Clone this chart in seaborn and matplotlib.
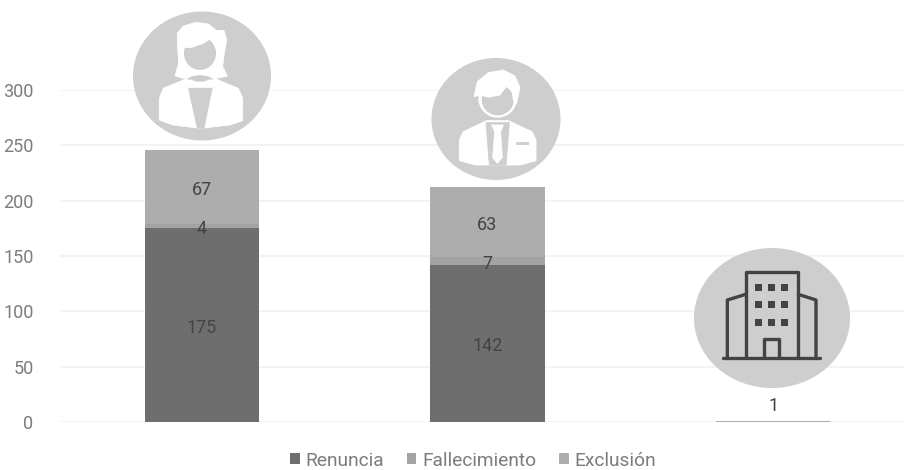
import matplotlib
matplotlib.use("Agg")
import matplotlib.pyplot as plt
from matplotlib.patches import Ellipse, Polygon, Rectangle
from matplotlib.lines import Line2D
import numpy as np
import seaborn as sns

categories = ["Mujeres", "Hombres", "Empresas"]
renuncia = [175, 142, 0]
fallecimiento = [4, 7, 0]
exclusion = [67, 63, 1]
series_names = ["Renuncia", "Fallecimiento", "Exclusión"]
y_ticks = [0, 50, 100, 150, 200, 250, 300]

COLORS = ["#6e6e6e", "#a3a3a3", "#adadad"]
CIRCLE = "#cecece"
DARK = "#434343"
W, H = 909, 470

sns.set_theme(style="white")
plt.rcParams["font.family"] = ["Roboto", "DejaVu Sans"]

fig = plt.figure(figsize=(W / 100, H / 100), dpi=100)
ax = fig.add_axes([60 / W, (H - 422) / H, 845 / W, 332 / H])

# stacked bars, bottom to top
bottom = np.zeros(3)
for name, vals, col in zip(series_names, [renuncia, fallecimiento, exclusion], COLORS):
    sns.barplot(x=categories, y=vals, bottom=bottom, color=col, width=0.4,
                saturation=1, ax=ax, label=name, legend=False, zorder=3, linewidth=0)
    for i, v in enumerate(vals):
        if v == 0:
            continue
        if v == 1:
            ax.annotate(str(v), (i, bottom[i] + v), xytext=(0, 4), textcoords="offset points",
                        ha="center", va="bottom", fontsize=13, color=DARK, zorder=5)
        else:
            ax.annotate(str(v), (i, bottom[i] + v / 2), xytext=(0, -2), textcoords="offset points",
                        ha="center", va="center", fontsize=13, color=DARK, zorder=5)
    bottom = bottom + np.array(vals)

ax.set_xlim(-0.497, 2.462)
ax.set_ylim(0, 300)
ax.set_yticks(y_ticks)
ax.set_ylabel("")
ax.tick_params(axis="x", bottom=False, labelbottom=False)
ax.tick_params(axis="y", left=False, labelsize=13, labelcolor="#7c7c7c", pad=13)
ax.yaxis.grid(True, color="#f1f1f1", linewidth=1.2, zorder=0)
ax.set_axisbelow(True)
ax.patch.set_alpha(0)
sns.despine(ax=ax, left=True, bottom=True)

handles, labels = ax.get_legend_handles_labels()
fig.legend(handles, labels, loc="lower center", bbox_to_anchor=(0.5205, -0.036), ncols=3,
           frameon=False, fontsize=13.8, labelcolor="#7c7c7c", handlelength=0.5,
           handleheight=0.5, handletextpad=0.3, columnspacing=1.2)

# overlay in pixel coordinates for the pictograms
ov = fig.add_axes([0, 0, 1, 1], zorder=10)
ov.set_xlim(0, W)
ov.set_ylim(H, 0)
ov.axis("off")


def shape(pts, ox, oy, color="white"):
    pts = [(ox + x / 3, oy + y / 3) for x, y in pts]
    ov.add_patch(Polygon(pts, closed=True, fc=color, ec=color, lw=0.6, joinstyle="round"))


def oval(cx, cy, rx, ry, ox, oy, color):
    ov.add_patch(Ellipse((ox + cx / 3, oy + cy / 3), 2 * rx / 3, 2 * ry / 3, fc=color, ec="none"))


# woman
ov.add_patch(Ellipse((202, 76), 138, 129, fc=CIRCLE, ec="none"))
ox, oy = 120, 0
shape([(165, 228), (176, 190), (172, 130), (172, 100), (190, 78), (228, 67), (265, 72), (290, 92),
       (312, 92), (320, 120), (312, 165), (308, 200), (322, 228), (290, 235), (190, 235)], ox, oy)
oval(240, 160, 48, 50, ox, oy, CIRCLE)
shape([(190, 143), (190, 110), (230, 90), (285, 100), (283, 108), (250, 130), (215, 142)], ox, oy)
shape([(118, 295), (130, 265), (200, 236), (240, 250), (285, 236), (355, 265), (368, 295), (368, 362),
       (330, 375), (250, 384), (232, 384), (160, 375), (118, 360)], ox, oy)
shape([(205, 262), (277, 262), (252, 384), (232, 384)], ox, oy, CIRCLE)
oval(240, 240, 38, 14, ox, oy, CIRCLE)
shape([(200, 240), (280, 240), (277, 262), (205, 262)], ox, oy)
oval(240, 236, 26, 9, ox, oy, CIRCLE)

# man
ov.add_patch(Ellipse((496, 119), 129, 122, fc=CIRCLE, ec="none"))
shape([(1018, 420), (1030, 395), (1100, 362), (1165, 362), (1236, 395), (1248, 420), (1248, 482),
       (1200, 495), (1066, 495), (1018, 482)], ox, oy)
oval(1133, 295, 58, 58, ox, oy, "white")
oval(1133, 300, 48, 46, ox, oy, CIRCLE)
shape([(1062, 290), (1072, 245), (1105, 218), (1150, 210), (1185, 228), (1200, 262), (1190, 310),
       (1180, 300), (1175, 262), (1160, 258), (1140, 285), (1105, 292), (1082, 285)], ox, oy)
shape([(1098, 368), (1168, 368), (1158, 495), (1108, 495)], ox, oy, CIRCLE)
shape([(1115, 375), (1150, 375), (1142, 395), (1147, 472), (1132, 490), (1118, 472), (1124, 395)], ox, oy)
shape([(1187, 425), (1223, 425), (1223, 432), (1187, 432)], ox, oy, CIRCLE)

# building
ov.add_patch(Ellipse((772, 318), 156, 140, fc=CIRCLE, ec="none"))
ox, oy = 680, 235
lw = 2.4
for xs, ys in [([197, 197, 355, 355], [365, 112, 112, 365]),
               ([197, 142, 142], [178, 195, 365]),
               ([355, 408, 408], [178, 195, 365]),
               ([128, 420], [368, 368]),
               ([252, 252, 297, 297], [365, 312, 312, 365])]:
    ov.add_line(Line2D([ox + x / 3 for x in xs], [oy + y / 3 for y in ys], color=DARK, lw=lw))
for wx in [235, 274, 313]:
    for wy in [158, 208, 262]:
        ov.add_patch(Rectangle((ox + wx / 3 - 3.4, oy + wy / 3 - 3.2), 6.8, 6.4, fc=DARK, ec="none"))

fig.savefig("out.png", dpi=100)
plt.close(fig)
